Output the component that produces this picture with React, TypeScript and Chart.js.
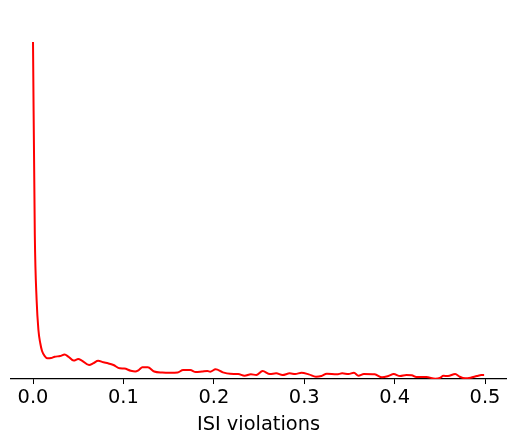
import React, { useEffect, useRef } from "react";
import { Chart, registerables } from "chart.js";

Chart.register(...registerables);

const XS = [
  0.0, 0.002, 0.004, 0.006, 0.008, 0.01, 0.013, 0.016, 0.02, 0.024, 0.03, 0.035, 0.039,
  0.045, 0.05, 0.054, 0.062, 0.067, 0.072, 0.078, 0.083, 0.089, 0.096, 0.101, 0.108,
  0.113, 0.117, 0.121, 0.127, 0.134, 0.143, 0.152, 0.16, 0.166, 0.174, 0.18, 0.187,
  0.193, 0.196, 0.202, 0.21, 0.218, 0.227, 0.234, 0.241, 0.247, 0.254, 0.262, 0.269,
  0.276, 0.284, 0.29, 0.297, 0.305, 0.313, 0.319, 0.325, 0.336, 0.342, 0.349, 0.355,
  0.36, 0.366, 0.378, 0.386, 0.393, 0.399, 0.406, 0.413, 0.419, 0.424, 0.435, 0.445,
  0.45, 0.454, 0.459, 0.467, 0.472, 0.478, 0.484, 0.491, 0.496, 0.499,
];

const DENSITY = [
  337, 144, 79, 49, 36, 28, 23, 20.7, 21, 22.3, 23, 24.5, 22.5,
  18.5, 20, 18.5, 14, 16, 18.3, 16.7, 15.7, 14, 10.7, 10.5, 8.3,
  7.5, 9, 11.7, 11.7, 7.5, 6.5, 6.3, 6.5, 9, 9, 7, 7.5,
  8, 7.3, 9.7, 6.7, 5.2, 5, 3.3, 4.8, 4, 8, 5, 5.7,
  4, 5.7, 5, 6.3, 4.7, 2.3, 3, 5.3, 4.7, 5.7, 5, 6.3,
  3.3, 5, 4.7, 1.7, 3, 5, 3, 4, 3.7, 2, 2, 0.3,
  1, 3.3, 3, 5, 2.3, 0.7, 1.3, 3, 4, 4,
];

const X_TICKS = [0, 0.1, 0.2, 0.3, 0.4, 0.5];
const X_LABEL = "ISI violations";

export default function App() {
  const ref = useRef<HTMLCanvasElement | null>(null);

  useEffect(() => {
    if (!ref.current) return;
    const font = "'DejaVu Sans', sans-serif";
    const chart = new Chart(ref.current, {
      type: "line",
      data: {
        datasets: [
          {
            data: XS.map((x, i) => ({ x, y: DENSITY[i] })),
            borderColor: "#ff0000",
            borderWidth: 2,
            pointRadius: 0,
            fill: false,
            cubicInterpolationMode: "monotone",
          },
        ],
      },
      options: {
        animation: false,
        responsive: false,
        events: [],
        layout: { padding: { left: 11, right: 9, top: 25, bottom: 0 } },
        plugins: { legend: { display: false }, tooltip: { enabled: false } },
        scales: {
          x: {
            type: "linear",
            min: -0.02434,
            max: 0.5232,
            afterBuildTicks: (scale: any) => {
              scale.ticks = X_TICKS.map((v) => ({ value: v }));
            },
            ticks: {
              color: "#000",
              font: { family: font, size: 19.4 },
              padding: 2,
              maxRotation: 0,
              callback: (v: any) => Number(v).toFixed(1),
            },
            grid: {
              display: true,
              drawOnChartArea: false,
              drawTicks: true,
              tickLength: 5,
              tickWidth: 1,
              tickColor: "#000",
              color: "#000",
            },
            border: { display: true, color: "#000", width: 1.2 },
            title: {
              display: true,
              text: X_LABEL,
              color: "#000",
              font: { family: font, size: 19.4 },
              padding: { top: 2.4, bottom: 5 },
            },
          },
          y: {
            type: "linear",
            display: false,
            min: 0,
            max: 354,
          },
        },
      },
    });
    return () => chart.destroy();
  }, []);

  return (
    <div style={{ position: "fixed", left: 0, top: 0, width: 515, height: 442, background: "#fff" }}>
      <canvas ref={ref} width={515} height={442} style={{ width: 515, height: 442 }} />
    </div>
  );
}
